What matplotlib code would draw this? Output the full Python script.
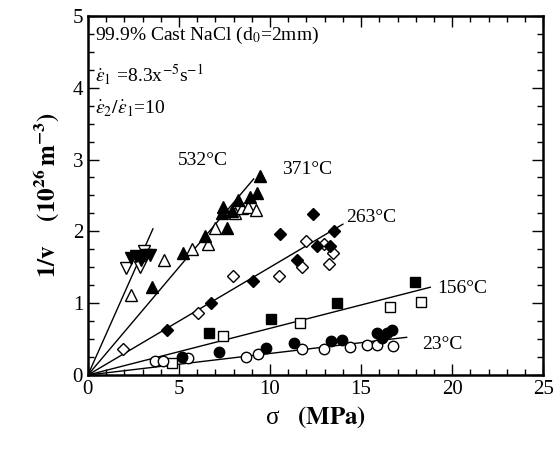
import matplotlib
matplotlib.use('Agg')
import matplotlib.pyplot as plt
import numpy as np
from matplotlib.ticker import MultipleLocator

plt.rcParams['font.family'] = ['Liberation Serif', 'DejaVu Serif']
plt.rcParams['mathtext.fontset'] = 'stix'

# 532 C : down triangles
t532_open_x = [2.1, 2.84, 3.1]
t532_open_y = [1.49, 1.51, 1.72]
t532_fill_x = [2.38, 2.65, 2.93, 3.2, 3.39]
t532_fill_y = [1.63, 1.65, 1.60, 1.67, 1.67]

# 371 C : up triangles
t371_open_x = [2.35, 4.2, 5.7, 6.58, 6.98, 8.08, 8.45, 8.8, 9.23]
t371_open_y = [1.11, 1.60, 1.76, 1.83, 2.04, 2.25, 2.32, 2.34, 2.30]
t371_fill_x = [3.5, 5.24, 6.43, 7.34, 7.44, 7.62, 7.9, 8.26, 8.9, 9.3, 9.45]
t371_fill_y = [1.23, 1.70, 1.94, 2.25, 2.34, 2.05, 2.28, 2.44, 2.48, 2.53, 2.77]

# 263 C : diamonds
t263_open_x = [1.92, 6.04, 7.98, 10.5, 11.74, 12.0, 12.97, 13.26, 13.44]
t263_open_y = [0.36, 0.87, 1.38, 1.38, 1.51, 1.87, 1.83, 1.55, 1.70]
t263_fill_x = [4.34, 6.78, 9.08, 10.55, 11.47, 12.38, 12.6, 13.3, 13.52]
t263_fill_y = [0.62, 1.00, 1.31, 1.96, 1.60, 2.24, 1.80, 1.79, 2.01]

# 156 C : squares
t156_open_x = [4.6, 7.44, 11.65, 16.6, 18.28]
t156_open_y = [0.17, 0.55, 0.73, 0.95, 1.01]
t156_fill_x = [6.65, 10.04, 13.65, 17.97]
t156_fill_y = [0.58, 0.78, 1.00, 1.30]

# 23 C : circles
t23_open_x = [3.67, 4.14, 5.5, 8.68, 9.36, 11.74, 12.97, 14.4, 15.35, 15.86, 16.74]
t23_open_y = [0.20, 0.19, 0.24, 0.25, 0.29, 0.36, 0.36, 0.39, 0.42, 0.42, 0.40]
t23_fill_x = [5.16, 7.2, 9.78, 11.33, 13.33, 13.97, 15.86, 16.13, 16.4, 16.7]
t23_fill_y = [0.25, 0.32, 0.37, 0.45, 0.48, 0.49, 0.58, 0.52, 0.58, 0.63]

# fitted lines through origin: slope, end of line
fit_slopes = [0.57, 0.30, 0.15, 0.065, 0.030]
fit_ends = [3.57, 9.1, 14.0, 18.8, 17.5]

labels = ['532°C', '371°C', '263°C', '156°C', '23°C']
label_pos = [(4.95, 2.98), (10.66, 2.86), (14.2, 2.19), (19.2, 1.21), (18.35, 0.42)]

fig = plt.figure(figsize=(5.6, 4.54), dpi=100)
ax = fig.add_axes([0.157, 0.174, 0.813, 0.791])

for s, e in zip(fit_slopes, fit_ends):
    xx = np.array([0, e])
    ax.plot(xx, s * xx, color='black', lw=1.0, zorder=1)

def pts(x, y, m, filled, ms):
    ax.plot(x, y, linestyle='none', marker=m, ms=ms, mec='black', mew=1.0,
            mfc='black' if filled else 'white', zorder=3)

pts(t532_open_x, t532_open_y, 'v', False, 8)
pts(t532_fill_x, t532_fill_y, 'v', True, 8)
pts(t371_open_x, t371_open_y, '^', False, 8)
pts(t371_fill_x, t371_fill_y, '^', True, 8)
pts(t263_open_x, t263_open_y, 'D', False, 6.5)
pts(t263_fill_x, t263_fill_y, 'D', True, 6.5)
pts(t156_open_x, t156_open_y, 's', False, 7.5)
pts(t156_fill_x, t156_fill_y, 's', True, 7.5)
pts(t23_open_x, t23_open_y, 'o', False, 7.5)
pts(t23_fill_x, t23_fill_y, 'o', True, 7.5)

for lab, (x, y) in zip(labels, label_pos):
    ax.text(x, y, lab, fontsize=14, va='center', ha='left')

ax.text(0.4, 4.73, '99.9% Cast NaCl (d$_0$=2mm)', fontsize=14, va='center')
ax.text(0.4, 4.18, r'$\dot{\varepsilon}_1$ =8.3x$^{-5}$s$^{-1}$', fontsize=14, va='center')
ax.text(0.4, 3.7, r'$\dot{\varepsilon}_2/\dot{\varepsilon}_1$=10', fontsize=14, va='center')

ax.set_xlim(0, 25)
ax.set_ylim(0, 5)
ax.xaxis.set_major_locator(MultipleLocator(5))
ax.xaxis.set_minor_locator(MultipleLocator(1))
ax.yaxis.set_major_locator(MultipleLocator(1))
ax.yaxis.set_minor_locator(MultipleLocator(0.25))
ax.tick_params(which='both', direction='in', top=True, right=True, width=1.0, labelsize=15)
ax.tick_params(which='major', length=8)
ax.tick_params(which='minor', length=4)
for sp in ax.spines.values():
    sp.set_linewidth(1.8)

ax.set_xlabel('σ   $\\mathbf{(MPa)}$', fontsize=18, labelpad=4)
ax.set_ylabel(r'$\mathbf{1/v}$    $\mathbf{(10^{26}\,m^{-3})}$', fontsize=18, labelpad=8)

plt.savefig('out.png', dpi=100)
plt.close()
